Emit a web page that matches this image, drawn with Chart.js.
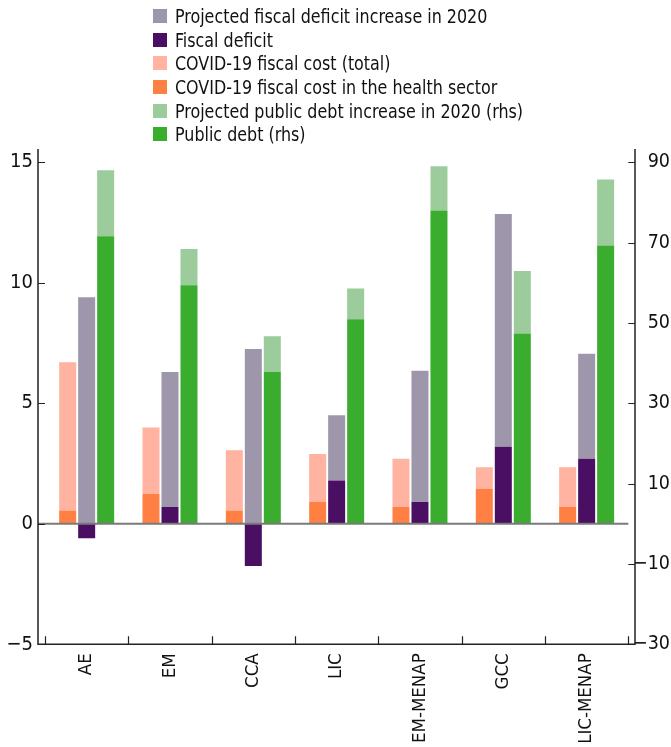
<!DOCTYPE html>
<html>
<head>
<meta charset="utf-8">
<script src="https://cdn.jsdelivr.net/npm/chart.js"></script>
<style>
  html, body { margin: 0; padding: 0; background: #fff; }
  #wrap { position: relative; width: 671px; height: 747px; overflow: hidden; }
  #legend { position: absolute; left: 153px; top: 4px; font-family: "Liberation Sans Narrow", "DejaVu Sans Condensed", sans-serif; font-size: 20px; color: #111; }
  #legend .item { display: flex; align-items: center; height: 23.7px; white-space: nowrap; }
  #legend .box { width: 14px; height: 14px; margin-right: 8px; flex: none; }
  #legend .txt { display: inline-block; transform: scaleX(0.885); transform-origin: left center; }
</style>
</head>
<body>
<div id="wrap">
  <canvas id="chart" width="671" height="747"></canvas>
  <div id="legend"></div>
</div>
<script>
// Values
const categories = ['AE', 'EM', 'CCA', 'LIC', 'EM-MENAP', 'GCC', 'LIC-MENAP'];

// left axis, percent of GDP
const healthCost = [0.55, 1.25, 0.55, 0.9, 0.7, 1.45, 0.7];
const totalCost = [6.7, 4.0, 3.05, 2.9, 2.7, 2.35, 2.35];
const fiscalDeficit = [-0.6, 0.7, -1.75, 1.8, 0.9, 3.2, 2.7];
const deficitIncrease = [9.4, 5.6, 7.25, 2.7, 5.45, 9.65, 4.35];

// right axis
const publicDebt = [71.6, 59.4, 37.8, 50.9, 78.0, 47.4, 69.3];
const debtIncrease = [16.4, 9.0, 8.9, 7.7, 11.0, 15.5, 16.4];

const leftTicks = [-5, 0, 5, 10, 15];
const rightTicks = [-30, -10, 10, 30, 50, 70, 90];

const colors = {
  health: '#ff8042',
  total: '#ffb3a0',
  deficit: '#4a0f63',
  defInc: '#9e96aa',
  debt: '#3aad2f',
  debtInc: '#9ccb9c'
};

const FONT = '"Liberation Sans Narrow", "DejaVu Sans Condensed", sans-serif';
const minus = v => String(v).replace('-', '\u2212');

// legend (html, in the reference order)
const legendItems = [
  ['Projected fiscal deficit increase in 2020', colors.defInc],
  ['Fiscal deficit', colors.deficit],
  ['COVID-19 fiscal cost (total)', colors.total],
  ['COVID-19 fiscal cost in the health sector', colors.health],
  ['Projected public debt increase in 2020 (rhs)', colors.debtInc],
  ['Public debt (rhs)', colors.debt]
];
document.getElementById('legend').innerHTML = legendItems.map(([label, c]) =>
  `<div class="item"><span class="box" style="background:${c}"></span><span class="txt">${label}</span></div>`
).join('');

// axis lines, ticks and zero line drawn like the reference
const framePlugin = {
  id: 'frame',
  afterDatasetsDraw(chart) {
    const {ctx, chartArea: ca, scales} = chart;
    const x = scales.x, y = scales.y, y1 = scales.y1;
    const lx = ca.left - 7, rx = ca.right + 6.7;
    ctx.save();
    // zero line
    ctx.strokeStyle = '#7a7a7a';
    ctx.lineWidth = 2;
    const y0 = y.getPixelForValue(0);
    ctx.beginPath();
    ctx.moveTo(lx, y0);
    ctx.lineTo(ca.right, y0);
    ctx.stroke();

    ctx.strokeStyle = '#222';
    ctx.lineWidth = 1.5;
    ctx.beginPath();
    ctx.moveTo(lx, ca.top);
    ctx.lineTo(lx, ca.bottom);
    ctx.lineTo(rx, ca.bottom);
    ctx.lineTo(rx, ca.top);
    ctx.stroke();

    ctx.lineWidth = 1.2;
    ctx.beginPath();
    leftTicks.forEach(v => {
      const py = Math.round(y.getPixelForValue(v)) + 0.5;
      ctx.moveTo(lx, py); ctx.lineTo(ca.left, py);
    });
    rightTicks.forEach(v => {
      const py = Math.round(y1.getPixelForValue(v)) + 0.5;
      ctx.moveTo(ca.right, py); ctx.lineTo(rx, py);
    });
    for (let i = 0; i <= categories.length; i++) {
      const px = Math.round(x.getPixelForValue(i - 0.5)) + 0.5;
      ctx.moveTo(px, ca.bottom); ctx.lineTo(px, ca.bottom - 8);
    }
    ctx.stroke();
    ctx.restore();
  }
};

new Chart(document.getElementById('chart'), {
  type: 'bar',
  data: {
    labels: categories,
    datasets: [
      { label: 'COVID-19 fiscal cost in the health sector', data: healthCost, backgroundColor: colors.health, stack: 'cost', yAxisID: 'y' },
      { label: 'COVID-19 fiscal cost (total)', data: totalCost.map((t, i) => t - healthCost[i]), backgroundColor: colors.total, stack: 'cost', yAxisID: 'y' },
      { label: 'Fiscal deficit', data: fiscalDeficit, backgroundColor: colors.deficit, stack: 'deficit', yAxisID: 'y' },
      { label: 'Projected fiscal deficit increase in 2020', data: deficitIncrease, backgroundColor: colors.defInc, stack: 'deficit', yAxisID: 'y' },
      { label: 'Public debt (rhs)', data: publicDebt, backgroundColor: colors.debt, stack: 'debt', yAxisID: 'y1' },
      { label: 'Projected public debt increase in 2020 (rhs)', data: debtIncrease, backgroundColor: colors.debtInc, stack: 'debt', yAxisID: 'y1' }
    ]
  },
  options: {
    responsive: false,
    animation: false,
    categoryPercentage: 0.684,
    barPercentage: 0.895,
    layout: { padding: { top: 149, right: 1, left: 0, bottom: 0 } },
    plugins: { legend: { display: false }, tooltip: { enabled: false } },
    scales: {
      x: {
        stacked: true,
        grid: { display: false, drawTicks: false },
        border: { display: false },
        ticks: {
          autoSkip: false, minRotation: 90, maxRotation: 90, padding: 9,
          color: '#111', font: { family: FONT, size: 18.5 }
        },
        afterFit: s => { s.height = 102.7; }
      },
      y: {
        position: 'left', stacked: true, min: -5, max: 15.55,
        grid: { display: false, drawTicks: false },
        border: { display: false },
        afterBuildTicks: s => { s.ticks = leftTicks.map(v => ({ value: v })); },
        ticks: { padding: 12, color: '#111', font: { family: FONT, size: 20 }, callback: minus },
        afterFit: s => { s.width = 45; }
      },
      y1: {
        position: 'right', stacked: true, min: -30, max: 93.3,
        grid: { display: false, drawTicks: false },
        border: { display: false },
        afterBuildTicks: s => { s.ticks = rightTicks.map(v => ({ value: v })); },
        ticks: { crossAlign: 'far', color: '#111', font: { family: FONT, size: 19.5 }, callback: minus },
        afterFit: s => { s.width = 41.7; }
      }
    }
  },
  plugins: [framePlugin]
});
</script>
</body>
</html>
